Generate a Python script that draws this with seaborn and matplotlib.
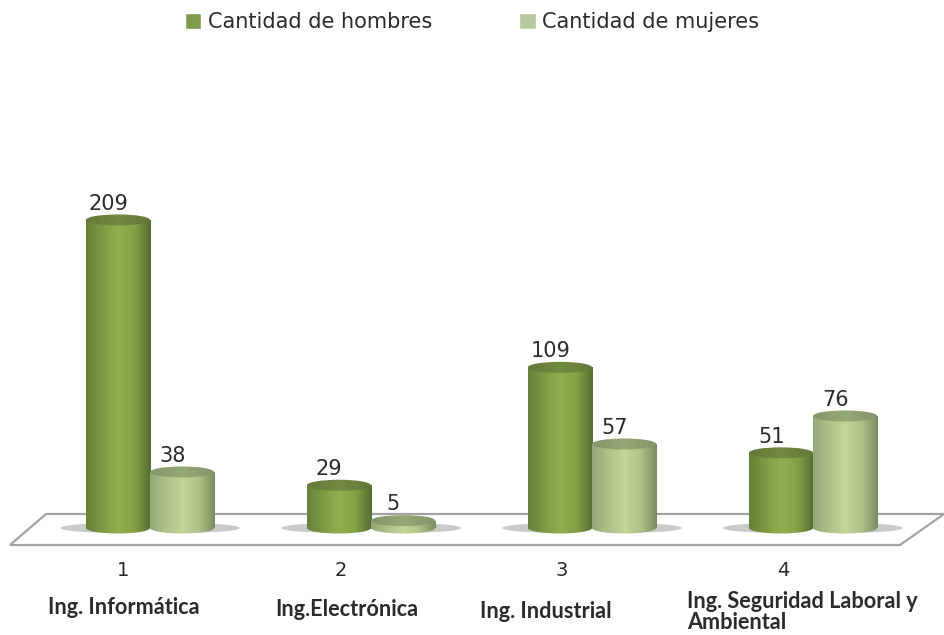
import numpy as np
import pandas as pd
import matplotlib
matplotlib.use('Agg')
import matplotlib.pyplot as plt
import seaborn as sns
from matplotlib.colors import LinearSegmentedColormap
from matplotlib.patches import Ellipse, Polygon, Patch

# data
numeros = ['1', '2', '3', '4']
carreras = ['Ing. Informática', 'Ing.Electrónica', 'Ing. Industrial',
            'Ing. Seguridad Laboral y\nAmbiental']
series = ['Cantidad de hombres', 'Cantidad de mujeres']
hombres = [209, 29, 109, 51]
mujeres = [38, 5, 57, 76]

df = pd.DataFrame({
    'numero': numeros * 2,
    'serie': [series[0]] * 4 + [series[1]] * 4,
    'cantidad': hombres + mujeres,
})

# pixel layout of the reference
W, H = 944, 635
Y0 = 528           # pixel row of value 0
PX_VAL = 1.474     # pixels per unit
X0 = 150           # pixel column of the first group
PX_CAT = 221       # pixels between groups

sns.set_style('white')
plt.rcParams['font.family'] = ['DejaVu Sans']

fig = plt.figure(figsize=(W / 100, H / 100), dpi=100)
ax = fig.add_axes([0, 0, 1, 1])

sns.barplot(data=df, x='numero', y='cantidad', hue='serie', order=numeros,
            hue_order=series, width=0.58, gap=0, dodge=True, legend=False,
            palette=['#8aa84a', '#bccf90'], ax=ax)
bars = list(ax.patches)
ax.axis('off')

# floor of the 3d chart, in pixels
def fx(px):
    return (px - X0) / PX_CAT

def fy(py):
    return (Y0 - py) / PX_VAL

floor = [(46, 514), (944, 514), (900, 545), (10, 545)]
ax.add_patch(Polygon([(fx(a), fy(b)) for a, b in floor], closed=True,
                     facecolor='white', edgecolor='#a3a3a3', lw=1.6, zorder=0.5))

cmaps = [
    LinearSegmentedColormap.from_list('osc', ['#66813a', '#7d9a42', '#90b14e', '#84a046', '#566d30']),
    LinearSegmentedColormap.from_list('cla', ['#94a878', '#aec188', '#c3d798', '#aec186', '#7a8c60']),
]
tapas = [
    LinearSegmentedColormap.from_list('t1', ['#64783a', '#738a40', '#64783a']),
    LinearSegmentedColormap.from_list('t2', ['#84966a', '#94a874', '#84966a']),
]
grad = np.linspace(0, 1, 256).reshape(1, -1)
ew = 11 / PX_VAL

def pintar(patch, cmap, ext, z):
    im = ax.imshow(grad, cmap=cmap, extent=ext, aspect='auto', zorder=z,
                   interpolation='bilinear')
    im.set_clip_path(patch)

for i, b in enumerate(bars):
    s = 0 if i < 4 else 1
    x, w, h = b.get_x(), b.get_width(), b.get_height()
    z = 2 + i % 4 + s * 0.5
    # shadow on the floor, towards the outside of each pair
    lado = 0.2 if s else -0.2
    ax.add_patch(Ellipse((x + w / 2 + lado * w, 0), w * 1.4, 9 / PX_VAL,
                         facecolor='#b4b4b4', edgecolor='none', alpha=0.7, zorder=1))
    b.set_zorder(z)
    b.set_edgecolor('none')
    pintar(b, cmaps[s], (x, x + w, 0, h), z + 0.01)
    base = Ellipse((x + w / 2, 0), w, ew, facecolor='none', edgecolor='none', zorder=z)
    ax.add_patch(base)
    pintar(base, cmaps[s], (x, x + w, -ew, ew), z + 0.01)
    tapa = Ellipse((x + w / 2, h), w, ew, facecolor='none', edgecolor='none', zorder=z)
    ax.add_patch(tapa)
    pintar(tapa, tapas[s], (x, x + w, h - ew, h + ew), z + 0.02)
    ax.annotate(str(int(h)), (x + w / 2, h), xytext=(-7, 4.5), textcoords='offset points',
                ha='center', va='bottom', fontsize=15, color='#2b2b2b', zorder=10)
ax.set_xlim(-X0 / PX_CAT, (W - X0) / PX_CAT)
ax.set_ylim((Y0 - H) / PX_VAL, Y0 / PX_VAL)

# numbers and names under the floor
num_x = [123, 341, 562, 783]
for n, px in zip(numeros, num_x):
    ax.text(fx(px), fy(571), n, ha='center', va='center', fontsize=14, color='#2b2b2b')

cat_x = [48, 275, 480, 687]
cat_y = [608, 610, 612, 612]
for c, px, py in zip(carreras, cat_x, cat_y):
    ax.text(fx(px), fy(py), c, ha='left', va='center', fontsize=15.6, fontweight='bold',
            family='Lato', color='#2b2b2b', linespacing=1.0)

handles = [Patch(facecolor='#7f9a4c'), Patch(facecolor='#b7c99c')]
ax.legend(handles, series, ncols=2, loc='center', bbox_to_anchor=(0.5, 0.965),
          frameon=False, fontsize=15, handlelength=0.8, handleheight=0.8,
          handletextpad=0.3, columnspacing=4.2, labelcolor='#2b2b2b')

fig.savefig('out.png', dpi=100)
